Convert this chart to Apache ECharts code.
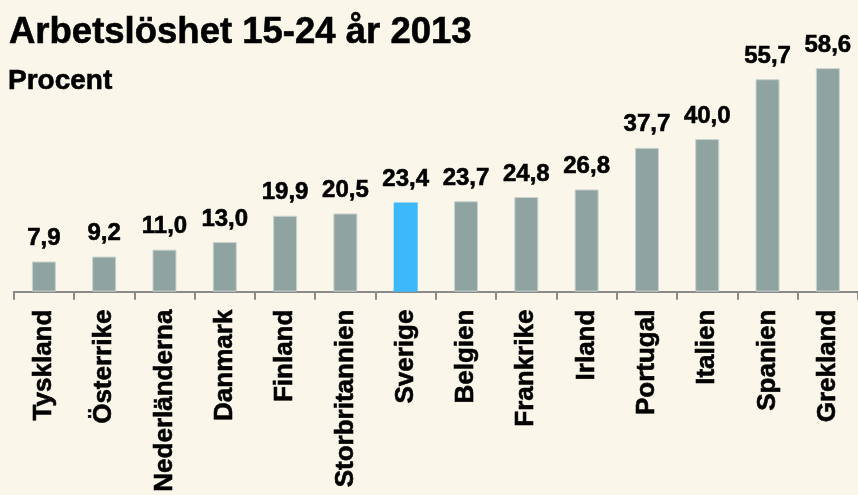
<!DOCTYPE html>
<html><head><meta charset="utf-8">
<script src="https://cdn.jsdelivr.net/npm/echarts@6/dist/echarts.min.js"></script>
<style>html,body{margin:0;padding:0;background:#faf7ea}#c{width:858px;height:495px}</style>
</head><body><div id="c"></div>
<script>
const titleText = 'Arbetslöshet 15-24 år 2013';
const subtitleText = 'Procent';
const categories = ['Tyskland','Österrike','Nederländerna','Danmark','Finland','Storbritannien','Sverige','Belgien','Frankrike','Irland','Portugal','Italien','Spanien','Grekland'];
const values = [7.9, 9.2, 11.0, 13.0, 19.9, 20.5, 23.4, 23.7, 24.8, 26.8, 37.7, 40.0, 55.7, 58.6];
const highlight = 'Sverige';

const FONT = '"Liberation Sans", Arial, sans-serif';
const STROKE = {textBorderColor: '#000', textBorderWidth: 0.6};
const chart = echarts.init(document.getElementById('c'), null, {renderer:'canvas'});
chart.setOption({
  backgroundColor: '#faf7ea',
  animation: false,
  title: [
    {text: titleText, left: 4, top: 9, textStyle: Object.assign({fontFamily: FONT, fontWeight: 'bold', fontSize: 36.5, color: '#000'}, STROKE)},
    {text: subtitleText, left: 3, top: 62, textStyle: Object.assign({fontFamily: FONT, fontWeight: 'bold', fontSize: 28, color: '#000'}, STROKE)}
  ],
  grid: {left: 13.7, right: -4.8, top: 62.8, bottom: 203, containLabel: false},
  xAxis: {
    type: 'category', data: categories,
    axisLine: {lineStyle: {color: '#8a8a8a', width: 2}},
    axisTick: {show: true, length: 8, lineStyle: {color: '#8a8a8a', width: 2}},
    axisLabel: Object.assign({rotate: 90, margin: 18, interval: 0, fontFamily: FONT, fontWeight: 'bold', fontSize: 26, color: '#000'}, STROKE)
  },
  yAxis: {type: 'value', min: 0, max: 60, show: false, splitLine: {show: false}},
  series: [{
    type: 'bar', barWidth: 24,
    data: values.map((v, i) => ({
      value: v,
      itemStyle: categories[i] === highlight
        ? {color: '#3db8fb'}
        : {color: '#8fa3a1', borderColor: '#c9d3cf', borderWidth: 1}
    })),
    label: Object.assign({
      show: true, position: 'top', distance: 11,
      fontFamily: FONT, fontWeight: 'bold', fontSize: 24, color: '#000',
      formatter: p => p.value.toFixed(1).replace('.', ',')
    }, STROKE)
  }]
});
</script></body></html>
